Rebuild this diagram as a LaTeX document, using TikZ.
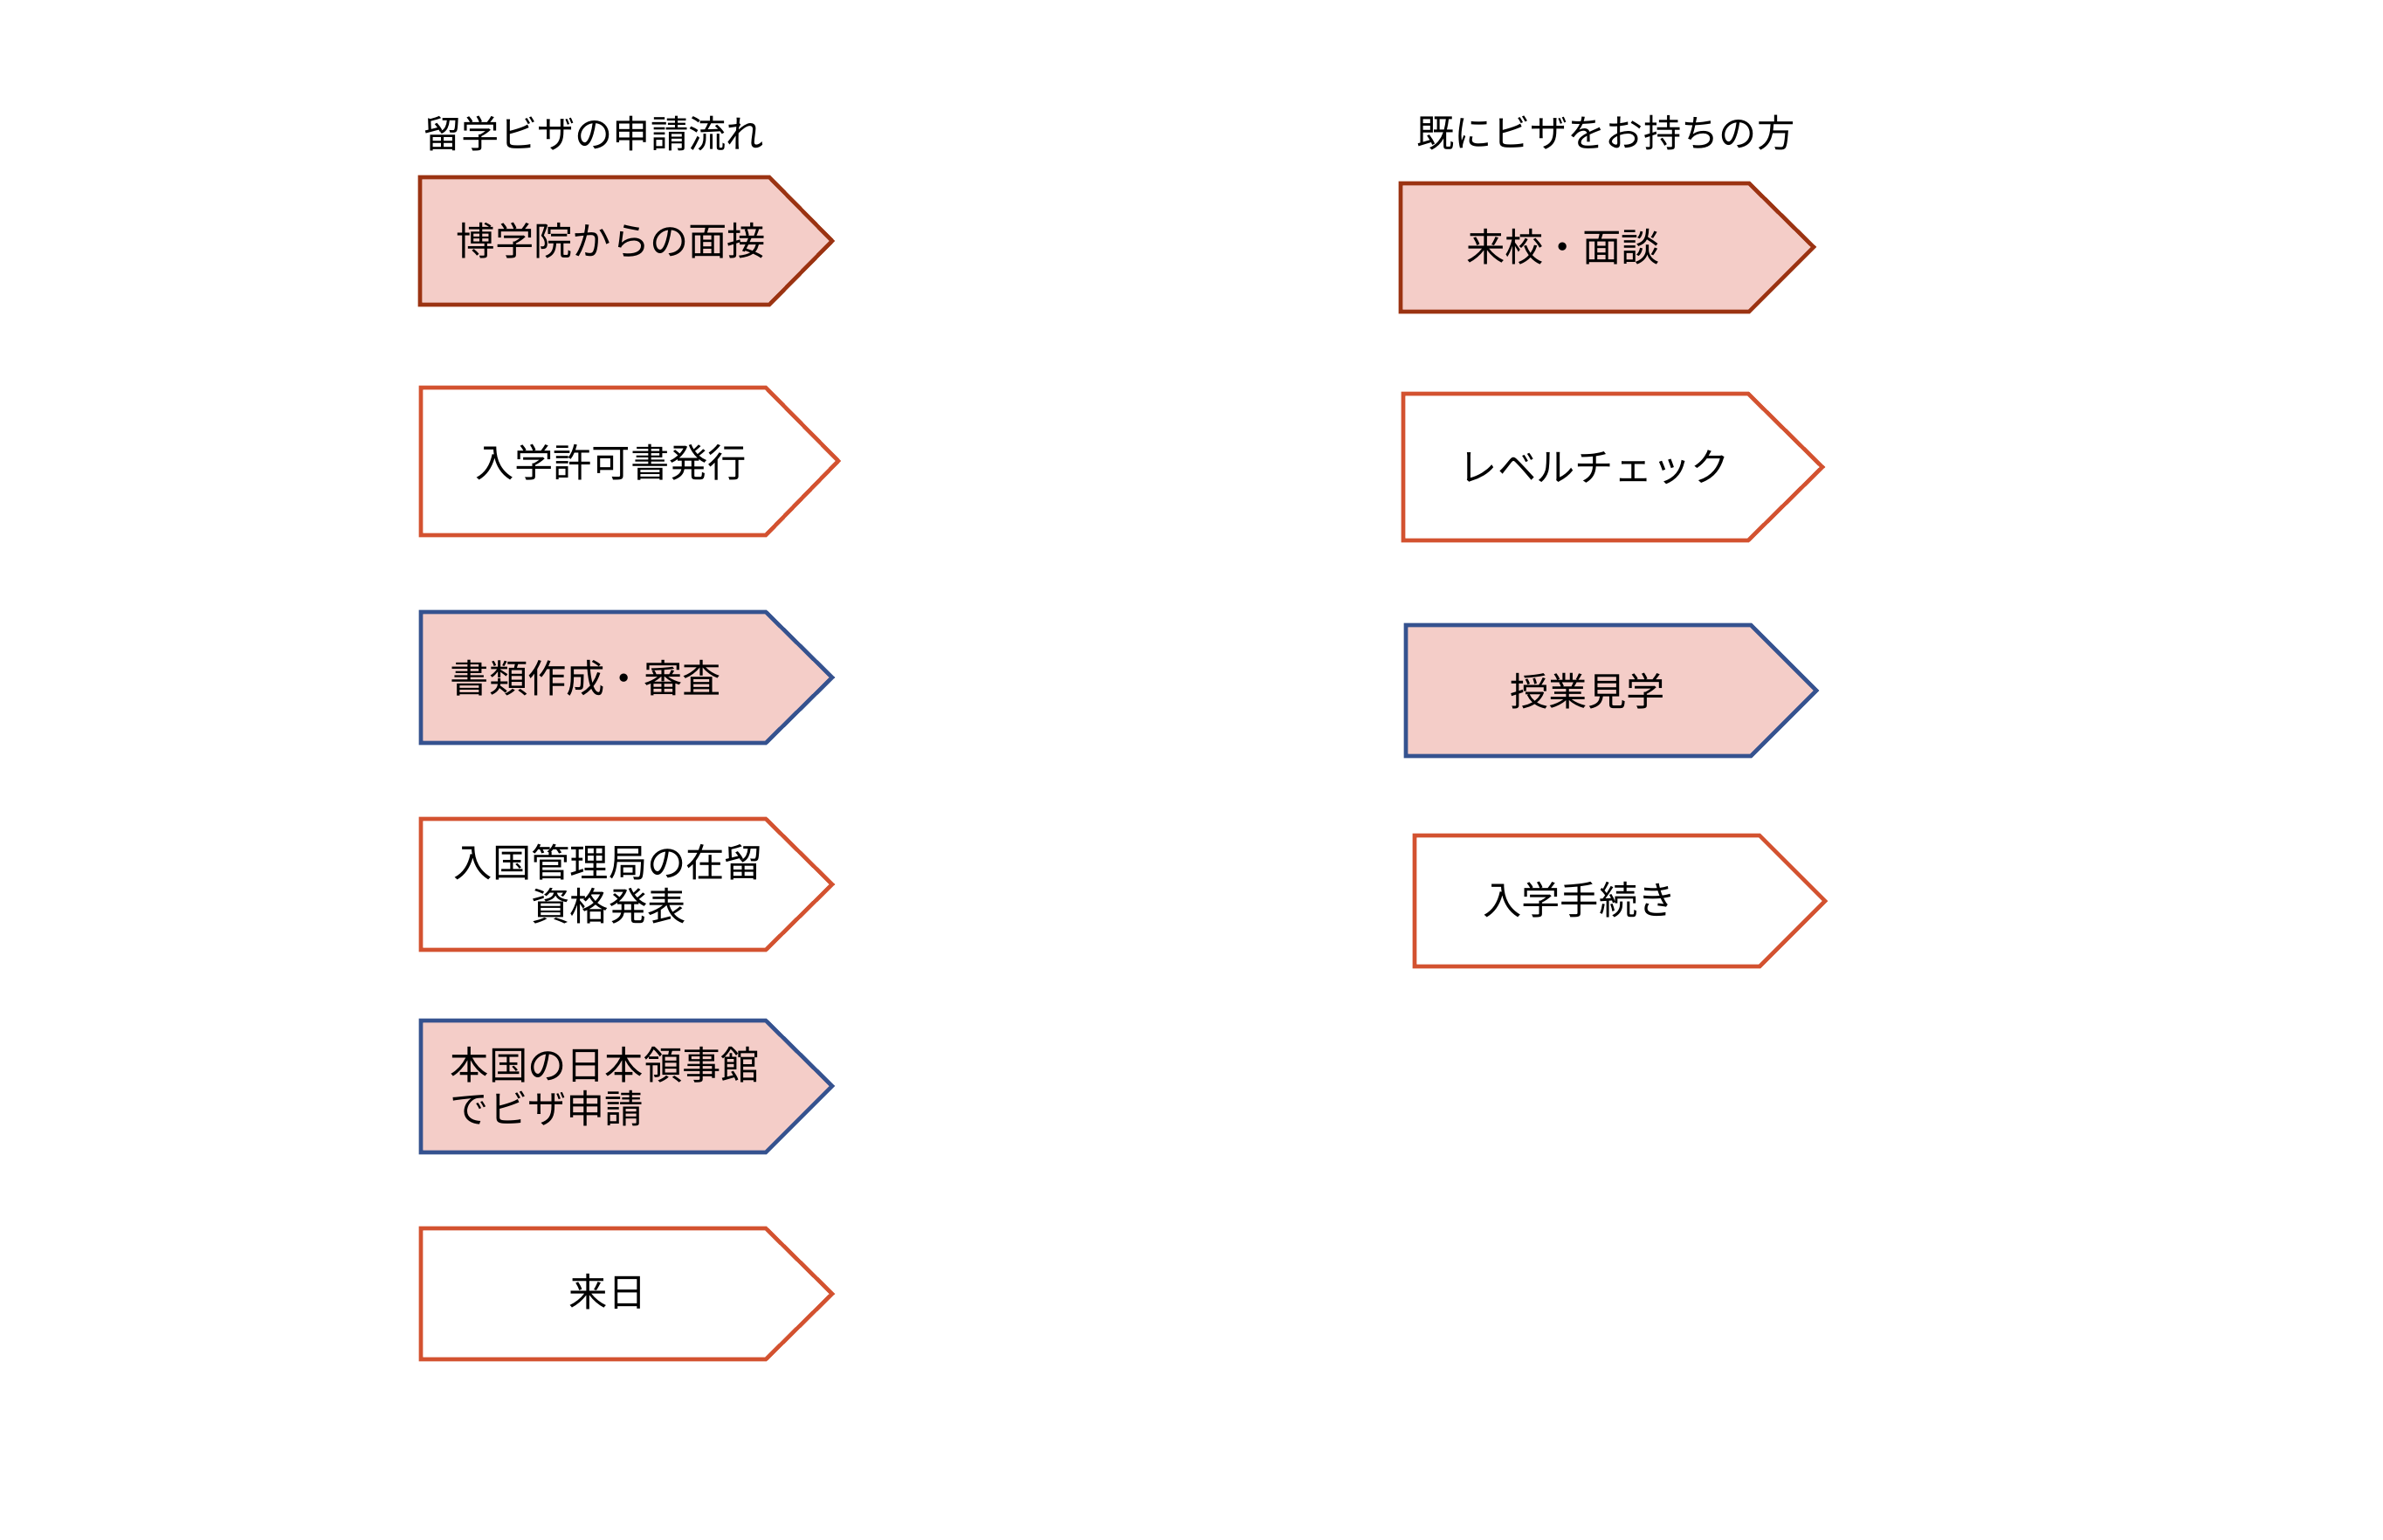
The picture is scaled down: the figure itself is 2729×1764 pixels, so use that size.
\documentclass[tikz,border=0pt]{standalone}
\usepackage{fontspec}
\newfontfamily\jpfont{Noto Sans CJK JP}
\definecolor{boxpink}{HTML}{F4CDC8}
\definecolor{darkrust}{HTML}{9B3312}
\definecolor{rustorange}{HTML}{D35230}
\definecolor{slateblue}{HTML}{35528F}
\begin{document}
\begin{tikzpicture}[x=0.01cm, y=-0.01cm,
    stepline/.style={line width=1.3pt, line join=miter},
    firstbox/.style={stepline, draw=darkrust, fill=boxpink},
    plainbox/.style={stepline, draw=rustorange, fill=white},
    bluebox/.style={stepline, draw=slateblue, fill=boxpink},
    steptext/.style={inner sep=0pt, font=\jpfont\fontsize{12.6}{14.2}\selectfont},
    headtext/.style={inner sep=0pt, anchor=west, font=\jpfont\fontsize{12.3}{13}\selectfont}]
    \useasboundingbox (0,0) rectangle (2729,1764);

    % Titles of the two columns
    \node[headtext] (lefthead) at (485,153) {留学ビザの申請流れ};
    \node[headtext] (righthead) at (1622,152) {既にビザをお持ちの方};

    % Left column
    \draw[firstbox] (481,203) -- (881,203) -- (953,276) -- (881,349) -- (481,349) -- cycle;
    \node[steptext] (mensetsu) at (700,276) {博学院からの面接};

    \draw[plainbox] (482,444) -- (877,444) -- (960,528) -- (877,613) -- (482,613) -- cycle;
    \node[steptext] (kyoka) at (700,530) {入学許可書発行};

    \draw[bluebox] (482,701) -- (877,701) -- (953,776) -- (877,851) -- (482,851) -- cycle;
    \node[steptext, anchor=west] (shorui) at (515,777) {書類作成・審査};

    \draw[plainbox] (482,938) -- (877,938) -- (953,1013) -- (877,1088) -- (482,1088) -- cycle;
    \node[steptext, align=center] (zairyu) at (697,1013) {入国管理局の在留\\資格発表};

    \draw[bluebox] (482,1169) -- (877,1169) -- (953,1244) -- (877,1320) -- (482,1320) -- cycle;
    \node[steptext, align=left, anchor=west] (shinsei) at (515,1245) {本国の日本領事館\\でビザ申請};

    \draw[plainbox] (482,1407) -- (877,1407) -- (953,1482) -- (877,1557) -- (482,1557) -- cycle;
    \node[steptext] (rainichi) at (696,1480) {来日};

    % Right column
    \draw[firstbox] (1604,210) -- (2003,210) -- (2077,283) -- (2003,357) -- (1604,357) -- cycle;
    \node[steptext] (raikou) at (1790,283) {来校・面談};

    \draw[plainbox] (1607,451) -- (2002,451) -- (2087,535) -- (2002,619) -- (1607,619) -- cycle;
    \node[steptext] (level) at (1826,535) {レベルチェック};

    \draw[bluebox] (1610,716) -- (2005,716) -- (2080,791) -- (2005,866) -- (1610,866) -- cycle;
    \node[steptext] (jugyo) at (1818,792) {授業見学};

    \draw[plainbox] (1620,957) -- (2015,957) -- (2090,1032) -- (2015,1107) -- (1620,1107) -- cycle;
    \node[steptext] (tetsuzuki) at (1809,1031) {入学手続き};
\end{tikzpicture}
\end{document}
